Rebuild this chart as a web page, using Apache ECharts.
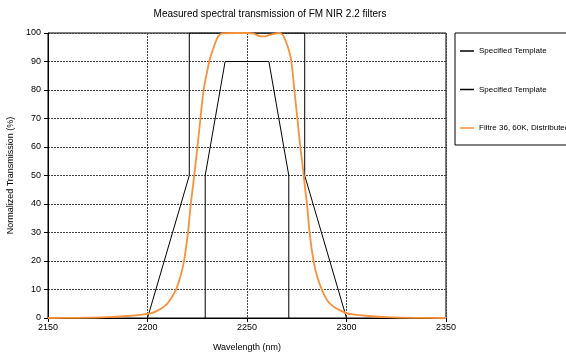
<!DOCTYPE html>
<html>
<head>
<meta charset="utf-8">
<script src="https://cdn.jsdelivr.net/npm/echarts@6/dist/echarts.min.js"></script>
<style>
  html, body { margin: 0; padding: 0; background: #fff; }
  #chart { width: 566px; height: 353px; }
</style>
</head>
<body>
<div id="chart"></div>
<script>
// outer template (nm, %)
const outerWl = [2200, 2221, 2221, 2279, 2279, 2300];
const outerT = [0, 50, 100, 100, 50, 0];
// inner template
const innerWl = [2229, 2229, 2239, 2261, 2271, 2271];
const innerT = [0, 50, 90, 90, 50, 0];
// measured filter transmission
const measWl = [2150, 2165, 2180, 2190, 2196, 2201.6, 2205, 2208.3, 2211, 2214.2, 2216.5, 2218.3,
  2220.3, 2221.7, 2222.8, 2223.8, 2225.1, 2226.6, 2228.2, 2229.7, 2231.2, 2233.4, 2235.4, 2237.6,
  2244, 2250, 2253.4, 2255.5, 2257.6, 2260, 2263, 2266, 2267.5, 2268.5, 2270.5, 2272.2, 2273.8,
  2275.3, 2276.8, 2278.2, 2279.1, 2280.2, 2281.5, 2283.5, 2285.3, 2287.7, 2290.5, 2293.5, 2297,
  2300.2, 2305, 2311, 2320, 2335, 2350];
const measT = [0, 0.05, 0.3, 0.7, 1.1, 1.6, 2.6, 4, 6, 9.8, 14.5, 19.8,
  29.7, 39.6, 46, 52, 60, 70, 80, 85.5, 90.5, 95.2, 98.7, 99.9,
  100, 100, 99.8, 99.1, 98.8, 99, 99.6, 100, 99.6, 98.7, 95.2, 90.5, 80,
  70, 60, 52, 46, 39.6, 29.7, 19.8, 14.5, 9.8, 6, 4, 2.6,
  1.6, 1.1, 0.7, 0.3, 0.05, 0];

const seriesNames = ['Specified Template', 'Specified Template ', 'Filtre 36, 60K, Distributed'];

const pair = (xs, ys) => xs.map((x, i) => [x, ys[i]]);
const font = 'Liberation Sans, Arial, sans-serif';

const chart = echarts.init(document.getElementById('chart'));
chart.setOption({
  animation: false,
  title: {
    text: 'Measured spectral transmission of FM NIR 2.2 filters',
    left: 265, top: 4, textAlign: 'center',
    textStyle: { fontFamily: font, fontSize: 10, fontWeight: 'normal', color: '#000' }
  },
  legend: {
    orient: 'vertical', left: 455, top: 33,
    padding: [13, 60, 12, 5], itemGap: 28.5, itemWidth: 14, itemHeight: 1.5, icon: 'rect',
    borderColor: '#000', borderWidth: 1,
    textStyle: { fontFamily: font, fontSize: 8, lineHeight: 10, color: '#000' },
    data: seriesNames
  },
  grid: {
    left: 48, right: 120, top: 33, bottom: 35, outerBoundsMode: 'none',
    show: true, borderColor: '#000', borderWidth: 1
  },
  xAxis: {
    type: 'value', min: 2150, max: 2350, interval: 50,
    name: 'Wavelength (nm)', nameLocation: 'middle', nameGap: 25,
    nameTextStyle: { fontFamily: font, fontSize: 9, color: '#000' },
    axisLine: { lineStyle: { color: '#000' } },
    axisTick: { lineStyle: { color: '#000' }, length: 4 },
    axisLabel: { fontFamily: font, fontSize: 9, color: '#000', margin: 5, formatter: v => String(v) },
    splitLine: { lineStyle: { color: '#444', type: [2, 1] } }
  },
  yAxis: {
    type: 'value', min: 0, max: 100, interval: 10,
    name: 'Normalized Transmission (%)', nameLocation: 'middle', nameGap: 27,
    nameTextStyle: { fontFamily: font, fontSize: 9, color: '#000' },
    axisLine: { show: true, lineStyle: { color: '#000' } },
    axisTick: { show: true, lineStyle: { color: '#000' }, length: 4 },
    axisLabel: { fontFamily: font, fontSize: 9, color: '#000', margin: 7 },
    splitLine: { lineStyle: { color: '#444', type: [2, 1] } }
  },
  series: [
    { name: seriesNames[0], type: 'line', symbol: 'none', data: pair(outerWl, outerT),
      lineStyle: { color: '#000', width: 1 }, itemStyle: { color: '#000' } },
    { name: seriesNames[1], type: 'line', symbol: 'none', data: pair(innerWl, innerT),
      lineStyle: { color: '#000', width: 1 }, itemStyle: { color: '#000' } },
    { name: seriesNames[2], type: 'line', symbol: 'none', smooth: 0.3, data: pair(measWl, measT),
      lineStyle: { color: '#F7923A', width: 1.8 }, itemStyle: { color: '#F7923A' } }
  ]
});
</script>
</body>
</html>
